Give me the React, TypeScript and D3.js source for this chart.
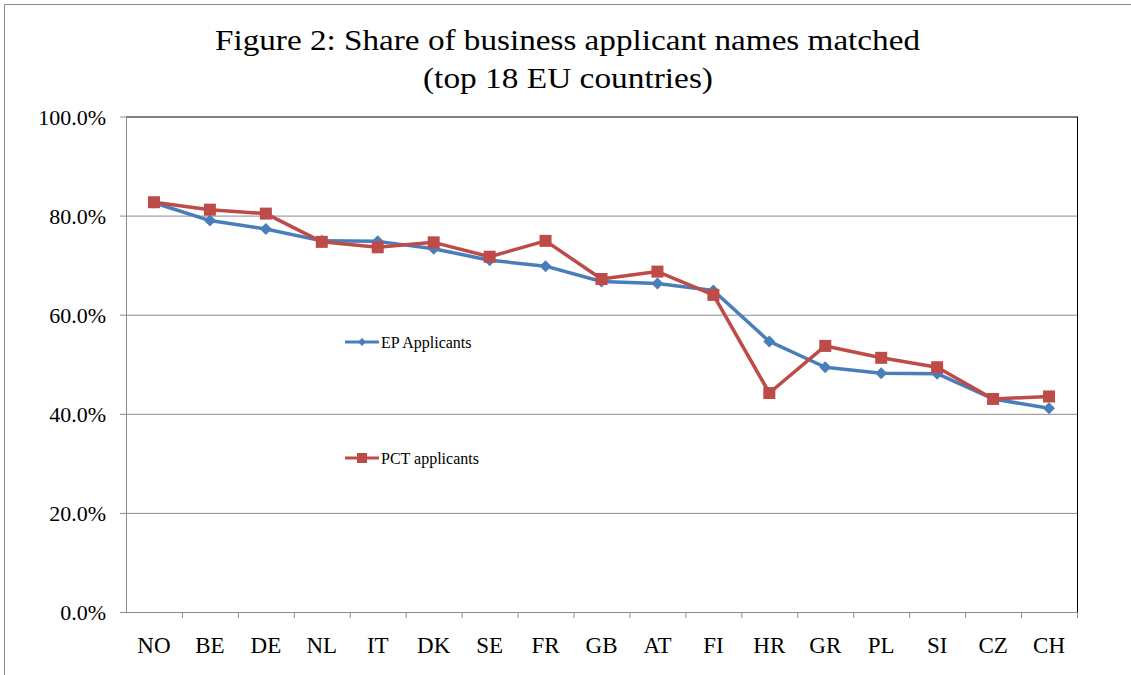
import React from "react";
import * as d3 from "d3";

const countries = ["NO", "BE", "DE", "NL", "IT", "DK", "SE", "FR", "GB", "AT", "FI", "HR", "GR", "PL", "SI", "CZ", "CH"];
const epApplicants = [82.6, 79.0, 77.3, 74.9, 74.8, 73.3, 71.0, 69.8, 66.7, 66.3, 64.9, 54.6, 49.4, 48.2, 48.1, 43.0, 41.1];
const pctApplicants = [82.7, 81.2, 80.4, 74.7, 73.6, 74.6, 71.7, 74.9, 67.2, 68.7, 64.0, 44.2, 53.7, 51.3, 49.4, 43.0, 43.5];
const yTicks = [0, 20, 40, 60, 80, 100];

const W = 1131;
const H = 675;
const margin = { top: 116.5, right: 54, bottom: 63, left: 126 };
const serif = "'Liberation Serif', 'Times New Roman', serif";

export default function App() {
  const innerW = W - margin.left - margin.right;
  const innerH = H - margin.top - margin.bottom;

  const x = d3.scaleBand().domain(countries).range([0, innerW]);
  const y = d3.scaleLinear().domain([0, 100]).range([innerH, 0]);
  const cx = (c: string) => (x(c) ?? 0) + x.bandwidth() / 2;

  const line = d3.line<number>()
    .x((_, i) => cx(countries[i]))
    .y(d => y(d));

  const blue = "#4A7EBB";
  const red = "#BE4B48";

  return (
    <div style={{ position: "absolute", left: 0, top: 0 }}>
      <svg width={W} height={H} style={{ display: "block", background: "#fff" }}>
        {/* outer chart frame */}
        <path d={`M4.5,${H} V4.5 H${W}`} fill="none" stroke="#8c8c8c" strokeWidth={1} />

        <text x={567.5} y={50} textAnchor="middle" fontFamily={serif} fontSize={29}
          textLength={705} lengthAdjust="spacingAndGlyphs" fill="#000">
          Figure 2: Share of business applicant names matched
        </text>
        <text x={568} y={88} textAnchor="middle" fontFamily={serif} fontSize={29}
          textLength={290} lengthAdjust="spacingAndGlyphs" fill="#000">
          (top 18 EU countries)
        </text>

        <g transform={`translate(${margin.left},${margin.top})`}>
          {yTicks.map(t => (
            <g key={t}>
              {t > 0 && t < 100 && (
                <line x1={0} x2={innerW} y1={y(t) + 0.5} y2={y(t) + 0.5} stroke="#8c8c8c" strokeWidth={1} />
              )}
              <line x1={-6} x2={0} y1={y(t) + 0.5} y2={y(t) + 0.5} stroke="#8c8c8c" />
              <text x={-20} y={y(t) + 8} textAnchor="end" fontFamily={serif} fontSize={22} fill="#000">
                {t.toFixed(1)}%
              </text>
            </g>
          ))}

          {/* plot area border */}
          <rect x={0.5} y={0.5} width={innerW} height={innerH} fill="none" stroke="#000" strokeWidth={1} />
          <line x1={0.5} x2={0.5} y1={0} y2={innerH} stroke="#8c8c8c" />
          <line x1={0} x2={innerW + 0.5} y1={innerH + 0.5} y2={innerH + 0.5} stroke="#8c8c8c" />

          {countries.map(c => (
            <line key={"t" + c} x1={(x(c) ?? 0) + x.bandwidth() + 0.5} x2={(x(c) ?? 0) + x.bandwidth() + 0.5}
              y1={innerH} y2={innerH + 6} stroke="#8c8c8c" />
          ))}
          {countries.map(c => (
            <text key={"l" + c} x={cx(c)} y={innerH + 41} textAnchor="middle" fontFamily={serif} fontSize={23} fill="#000">
              {c}
            </text>
          ))}

          <path d={line(epApplicants) ?? ""} fill="none" stroke={blue} strokeWidth={3.5} strokeLinejoin="round" />
          {epApplicants.map((v, i) => {
            const px = cx(countries[i]);
            const py = y(v);
            return (
              <path key={"e" + i} d={`M${px},${py - 6} L${px + 6},${py} L${px},${py + 6} L${px - 6},${py} Z`} fill={blue} />
            );
          })}

          <path d={line(pctApplicants) ?? ""} fill="none" stroke={red} strokeWidth={3.5} strokeLinejoin="round" />
          {pctApplicants.map((v, i) => (
            <rect key={"p" + i} x={cx(countries[i]) - 6} y={y(v) - 6} width={12} height={12} fill={red} />
          ))}
        </g>

        {/* legend */}
        <g>
          <line x1={345} x2={379} y1={342} y2={342} stroke={blue} strokeWidth={3} />
          <path d="M362,338 L366,342 L362,346 L358,342 Z" fill={blue} />
          <text x={381} y={347.5} fontFamily={serif} fontSize={16} fill="#000">EP Applicants</text>

          <line x1={345} x2={379} y1={458} y2={458} stroke={red} strokeWidth={3} />
          <rect x={357} y={453} width={10} height={10} fill={red} />
          <text x={381} y={463.5} fontFamily={serif} fontSize={16} fill="#000">PCT applicants</text>
        </g>
      </svg>
    </div>
  );
}
